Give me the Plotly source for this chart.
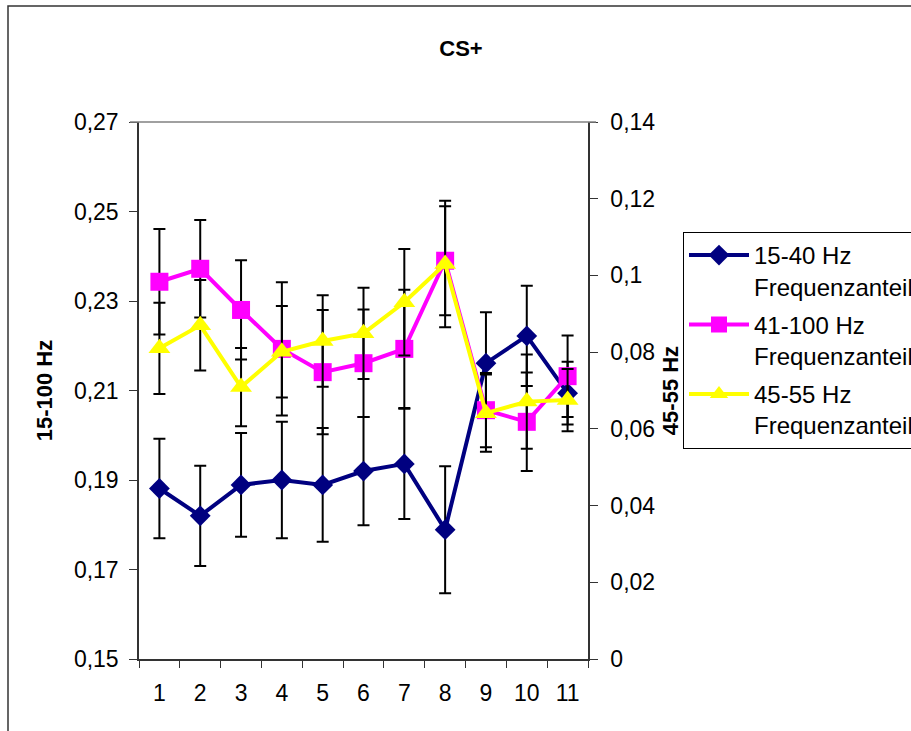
import plotly.graph_objects as go

categories = ["1", "2", "3", "4", "5", "6", "7", "8", "9", "10", "11"]

# 15-40 Hz (left axis)
s1_values = [0.1881, 0.1820, 0.1889, 0.1900, 0.1889, 0.1920, 0.1936, 0.1789, 0.2161, 0.2222, 0.2094]
s1_err = [0.0111, 0.0112, 0.0116, 0.0130, 0.0127, 0.0121, 0.0123, 0.0142, 0.0114, 0.0112, 0.0070]

# 41-100 Hz (left axis)
s2_values = [0.2343, 0.2372, 0.2280, 0.2193, 0.2141, 0.2161, 0.2193, 0.2390, 0.2056, 0.2030, 0.2132]
s2_err = [0.0118, 0.0109, 0.0111, 0.0149, 0.0139, 0.0120, 0.0132, 0.0122, 0.0083, 0.0110, 0.0091]

# 45-55 Hz (right axis)
s3_values = [0.0810, 0.0870, 0.0709, 0.0801, 0.0829, 0.0849, 0.0930, 0.1030, 0.0641, 0.0671, 0.0675]
s3_err = [0.0119, 0.0118, 0.0102, 0.0119, 0.0119, 0.0119, 0.0139, 0.0165, 0.0101, 0.0123, 0.0081]

names = ["15-40 Hz<br>Frequenzanteil", "41-100 Hz<br>Frequenzanteil", "45-55 Hz<br>Frequenzanteil"]

FONT = "Liberation Sans, Arial, sans-serif"

def err(arr):
    return dict(type="data", array=arr, visible=True, color="black", thickness=2, width=6)

fig = go.Figure()
fig.add_trace(go.Scatter(
    x=categories, y=s1_values, name=names[0], mode="lines+markers",
    line=dict(color="#000080", width=4),
    marker=dict(symbol="diamond", size=16, color="#000080"),
    error_y=err(s1_err), yaxis="y", legendgroup="a"))
fig.add_trace(go.Scatter(
    x=categories, y=s2_values, name=names[1], mode="lines+markers",
    line=dict(color="#FF00FF", width=4),
    marker=dict(symbol="square", size=18, color="#FF00FF"),
    error_y=err(s2_err), yaxis="y", legendgroup="b"))
fig.add_trace(go.Scatter(
    x=categories, y=s3_values, name=names[2], mode="lines+markers",
    line=dict(color="#FFFF00", width=4),
    marker=dict(symbol="triangle-up", size=19, color="#FFFF00"),
    error_y=err(s3_err), yaxis="y2", legendgroup="c"))

fig.update_layout(
    width=911, height=731,
    margin=dict(l=139, r=323, t=122, b=72, autoexpand=False),
    paper_bgcolor="white", plot_bgcolor="white",
    separators=", ",
    font=dict(family=FONT, size=23, color="black"),
    title=dict(text="<b>CS+</b>", x=461/911, xanchor="center", y=(731-48)/731, yanchor="middle",
               font=dict(family=FONT, size=22, color="black")),
    showlegend=True,
    legend=dict(xref="container", yref="container", x=683/911, y=(731-232)/731,
                xanchor="left", yanchor="top",
                bgcolor="white", bordercolor="black", borderwidth=1,
                font=dict(family=FONT, size=24, color="black"),
                valign="top", tracegroupgap=4, traceorder="grouped",
                itemwidth=60),
    xaxis=dict(type="category", range=[-0.5, 10.5], tickson="boundaries",
               ticks="outside", ticklen=7,
               tickcolor="#333", showline=True, linecolor="#333", linewidth=1.5,
               showgrid=False, zeroline=False, ticklabelstandoff=13,
               tickfont=dict(size=23)),
    yaxis=dict(range=[0.15, 0.27], tick0=0.15, dtick=0.02, tickformat=".2f",
               ticks="outside", ticklen=8, tickcolor="#333",
               showline=True, linecolor="#333", linewidth=1.5,
               showgrid=False, zeroline=False, ticklabelstandoff=6,
               title=dict(text="<b>15-100 Hz</b>", font=dict(size=22))),
    yaxis2=dict(range=[0, 0.14], tick0=0, dtick=0.02, overlaying="y", side="right",
                ticks="outside", ticklen=8, tickcolor="#333",
                showline=True, linecolor="#333", linewidth=1.5,
                showgrid=False, zeroline=False, ticklabelstandoff=8,
                title=dict(text="<b>45-55 Hz</b>", font=dict(size=22))),
    shapes=[
        dict(type="rect", xref="paper", yref="paper",
             x0=(8-139)/449, x1=(930-139)/449, y0=(659-745)/537, y1=(659-6)/537,
             line=dict(color="#333", width=1.5), fillcolor="rgba(0,0,0,0)", layer="below"),
        dict(type="line", xref="paper", yref="paper",
             x0=(130-139)/449, x1=(596-139)/449, y0=1, y1=1,
             line=dict(color="#808080", width=1.5)),
    ],
)

fig.write_html("out.html")
